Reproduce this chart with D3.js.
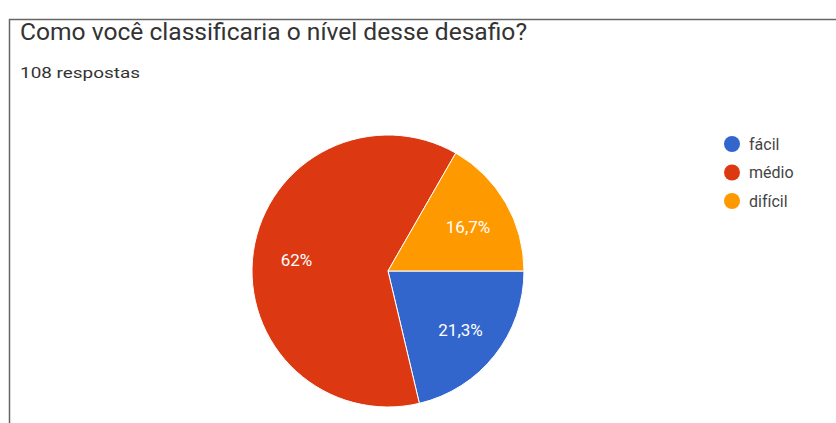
<!DOCTYPE html>
<html>
<head>
<meta charset="utf-8">
<script src="https://cdn.jsdelivr.net/npm/d3@7"></script>
<style>
  body { margin: 0; background: #fff; }
  svg { display: block; font-family: Roboto, "Noto Sans", sans-serif; }
</style>
</head>
<body>
<svg id="chart"></svg>
<script>
// data
const categories = ['fácil', 'médio', 'difícil']
const values = [21.3, 62, 16.7]
const labels = ['21,3%', '62%', '16,7%']
const colors = ['#3366cc', '#dc3912', '#ff9900']

const width = 836, height = 423

const svg = d3.select('#chart')
    .attr('width', width)
    .attr('height', height)

// card border (top + left edge)
svg.append('path')
    .attr('d', `M9.5,${height} V19.5 H${width}`)
    .attr('fill', 'none')
    .attr('stroke', '#666')
    .attr('stroke-width', 1.5)

svg.append('text')
    .attr('x', 20)
    .attr('y', 40)
    .attr('font-size', 24)
    .attr('fill', '#333')
    .attr('textLength', 507)
    .attr('lengthAdjust', 'spacingAndGlyphs')
    .text('Como você classificaria o nível desse desafio?')

svg.append('text')
    .attr('x', 20)
    .attr('y', 78)
    .attr('font-size', 15)
    .attr('fill', '#333')
    .attr('textLength', 120)
    .attr('lengthAdjust', 'spacingAndGlyphs')
    .text('108 respostas')

// pie
const cx = 388, cy = 271, r = 136

const pie = d3.pie()
    .sort(null)
    .startAngle(Math.PI / 2)
    .endAngle(Math.PI / 2 + 2 * Math.PI)

const arc = d3.arc().innerRadius(0).outerRadius(r)
const labelArc = d3.arc().innerRadius(r * 0.68).outerRadius(r * 0.68)

const arcs = pie(values)

const g = svg.append('g').attr('transform', `translate(${cx},${cy})`)

g.selectAll('path')
    .data(arcs)
    .join('path')
    .attr('d', arc)
    .attr('fill', (d, i) => colors[i])
    .attr('stroke', '#fff')
    .attr('stroke-width', 1)

g.selectAll('text')
    .data(arcs)
    .join('text')
    .attr('transform', d => {
        const [x, y] = labelArc.centroid(d)
        return `translate(${x},${y + 2})`
    })
    .attr('text-anchor', 'middle')
    .attr('dy', '0.35em')
    .attr('font-size', 17)
    .attr('fill', '#fff')
    .text((d, i) => labels[i])

// legend
const legend = svg.append('g')
    .selectAll('g')
    .data(categories)
    .join('g')
    .attr('transform', (d, i) => `translate(732,${144 + i * 28.5})`)

legend.append('circle')
    .attr('r', 8)
    .attr('fill', (d, i) => colors[i])

legend.append('text')
    .attr('x', 17)
    .attr('dy', '0.35em')
    .attr('font-size', 16)
    .attr('fill', '#444')
    .text(d => d)
</script>
</body>
</html>
